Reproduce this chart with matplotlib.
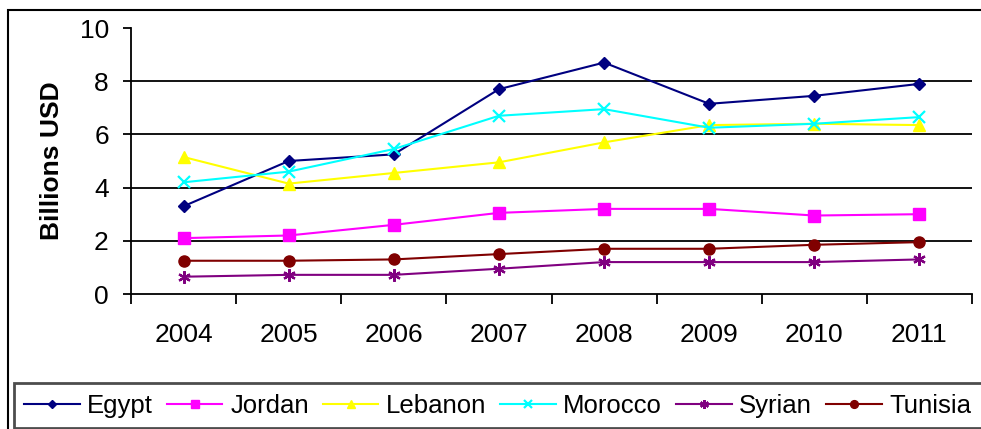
import matplotlib.pyplot as plt
from matplotlib.patches import Rectangle

years = ['2004', '2005', '2006', '2007', '2008', '2009', '2010', '2011']
egypt = [3.3, 5.0, 5.25, 7.7, 8.7, 7.15, 7.45, 7.9]
jordan = [2.1, 2.2, 2.6, 3.05, 3.2, 3.2, 2.95, 3.0]
lebanon = [5.15, 4.15, 4.55, 4.95, 5.7, 6.35, 6.4, 6.35]
morocco = [4.2, 4.6, 5.45, 6.7, 6.95, 6.25, 6.4, 6.65]
syrian = [0.65, 0.72, 0.72, 0.95, 1.2, 1.2, 1.2, 1.3]
tunisia = [1.25, 1.25, 1.3, 1.5, 1.7, 1.7, 1.85, 1.95]
y_ticks = [0, 2, 4, 6, 8, 10]

series = [
    ('Egypt', egypt, '#000080', 'D', 6.3),
    ('Jordan', jordan, '#FF00FF', 's', 8),
    ('Lebanon', lebanon, '#FFFF00', '^', 9),
    ('Morocco', morocco, '#00FFFF', 'x', 8),
    ('Syrian', syrian, '#800080', (6, 2, 0), 9),
    ('Tunisia', tunisia, '#800000', 'o', 8),
]

plt.rcParams['font.family'] = ['Liberation Sans', 'DejaVu Sans']

fig = plt.figure(figsize=(9.81, 4.29), dpi=100)
ax = fig.add_axes([131 / 981, 1 - 294 / 429, (972 - 131) / 981, (294 - 28) / 429])

x = list(range(len(years)))
for i, (name, vals, color, marker, ms) in enumerate(series):
    mew = 1.6 if marker in ('x', (6, 2, 0)) else 1
    ax.plot(x, vals, color=color, marker=marker, markersize=ms, linewidth=1.5,
            markeredgewidth=mew, label=name, zorder=3 + i)

# grid lines (not at 0 and 10)
for y in y_ticks[1:-1]:
    ax.axhline(y, color='black', linewidth=1.3, zorder=1)

ax.set_xlim(-0.5, len(years) - 0.5)
ax.set_ylim(0, 10)
ax.set_yticks(y_ticks)
ax.tick_params(axis='y', length=6, width=1.3, pad=10, labelsize=19)

# category boundaries as major ticks, labels on minor ticks
ax.set_xticks([i - 0.5 for i in range(len(years) + 1)])
ax.set_xticklabels([])
ax.set_xticks(x, minor=True)
ax.set_xticklabels(years, minor=True)
ax.tick_params(axis='x', which='major', length=7, width=1.3)
ax.tick_params(axis='x', which='minor', length=0, pad=21, labelsize=19)

for side in ('top', 'right'):
    ax.spines[side].set_visible(False)
for side in ('left', 'bottom'):
    ax.spines[side].set_linewidth(1.3)

ax.set_ylabel('Billions USD', fontsize=19, fontweight='bold', labelpad=11)

leg = fig.legend(loc='lower left', bbox_to_anchor=(14 / 981, 1 - 428 / 429),
                 ncol=6, fontsize=18.5, frameon=True, fancybox=False,
                 handlelength=2.15, handletextpad=0.3, columnspacing=0.55,
                 markerscale=0.7, borderpad=0.4, borderaxespad=0)
leg.get_frame().set_edgecolor('#202020')
leg.get_frame().set_linewidth(2)

# outer chart border (runs off the right and bottom edges)
fig.patches.append(Rectangle((8 / 981, -0.1), 1.2, 1.1 - 10 / 429,
                             transform=fig.transFigure, fill=False,
                             edgecolor='black', linewidth=1.5))

fig.savefig('out.png', dpi=100)
